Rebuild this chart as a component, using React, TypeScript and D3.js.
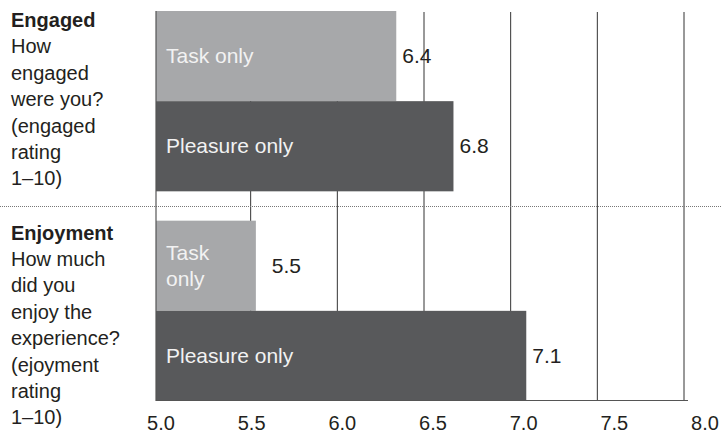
import React from "react";
import * as d3 from "d3";

// ---- data ----
const groupTitles = ["Engaged", "Enjoyment"];
const groupQuestions = [
  ["How", "engaged", "were you?", "(engaged", "rating", "1–10)"],
  ["How much", "did you", "enjoy the", "experience?", "(ejoyment", "rating", "1–10)"],
];
const seriesNames = ["Task only", "Pleasure only"];
// bar lengths as drawn in the picture
const taskValues = [6.34, 5.53];
const pleasureValues = [6.67, 7.09];
// printed value labels
const taskLabels = ["6.4", "5.5"];
const pleasureLabels = ["6.8", "7.1"];
const gridValues = [5.5, 6.0, 6.5, 7.0, 7.5, 8.0];
const tickLabels = ["5.0", "5.5", "6.0", "6.5", "7.0", "7.5", "8.0"];

// ---- layout ----
const W = 721;
const H = 434;
const plotLeft = 156;
const plotTop = 11;
const plotBottom = 401;
const FONT = "'Liberation Sans', Arial, Helvetica, sans-serif";
const seriesColors = ["#a7a8aa", "#58595b"];
const titleOffsets = [16, 19];

export default function App() {
  const x = d3.scaleLinear().domain([5, 8]).range([164, 684]);
  const tickScale = d3.scalePoint<string>().domain(tickLabels).range([161, 705]);
  const groupScale = d3
    .scaleBand<string>()
    .domain(groupTitles)
    .range([plotTop, plotBottom])
    .paddingInner(0.14)
    .paddingOuter(0);
  const seriesScale = d3
    .scaleBand<string>()
    .domain(seriesNames)
    .range([0, groupScale.bandwidth()])
    .padding(0);

  const seriesValues = [taskValues, pleasureValues];
  const seriesLabels = [taskLabels, pleasureLabels];

  const g0 = groupScale(groupTitles[0])!;
  const g1 = groupScale(groupTitles[1])!;
  const sepY = (g0 + groupScale.bandwidth() + g1) / 2;

  const lineH = 26;

  return (
    <svg
      width={W}
      height={H}
      style={{ position: "absolute", left: 0, top: 0, background: "#fff" }}
      fontFamily={FONT}
    >
      {/* gridlines */}
      {gridValues.map((v) => (
        <line
          key={"g" + v}
          x1={x(v)}
          x2={x(v)}
          y1={plotTop + 1}
          y2={plotBottom}
          stroke="#333"
          strokeWidth={1}
        />
      ))}

      {/* separator */}
      <line
        x1={0}
        x2={W}
        y1={Math.round(sepY) + 0.5}
        y2={Math.round(sepY) + 0.5}
        stroke="#777"
        strokeWidth={1}
        strokeDasharray="1 1"
      />

      {/* bars */}
      {groupTitles.map((gt, gi) => {
        const gy = groupScale(gt)!;
        return seriesNames.map((sn, si) => {
          const v = seriesValues[si][gi];
          const y = gy + seriesScale(sn)!;
          const h = seriesScale.bandwidth();
          const xe = x(v);
          const bw = xe - plotLeft;
          const mid = y + h / 2;
          const fs = 21;
          const estW = sn.length * fs * 0.5;
          const wrapped = bw - 20 < estW;
          const words = wrapped ? sn.split(" ") : [sn];
          const n = words.length;
          return (
            <g key={gt + sn}>
              <rect x={plotLeft} y={y} width={bw} height={h} fill={seriesColors[si]} />
              <text fontSize={fs} fill="#f2f2f2">
                {words.map((w, i) => (
                  <tspan key={i} x={plotLeft + 10} y={mid + 7 + (i - (n - 1) / 2) * lineH}>
                    {w}
                  </tspan>
                ))}
              </text>
              <text x={xe + (wrapped ? 16 : 6)} y={mid + 7} fontSize={21} fill="#231f20">
                {seriesLabels[si][gi]}
              </text>
            </g>
          );
        });
      })}

      {/* axes */}
      <line x1={plotLeft} x2={plotLeft} y1={plotTop} y2={plotBottom} stroke="#555" strokeWidth={1.2} />
      <line x1={plotLeft} x2={688} y1={plotBottom - 0.5} y2={plotBottom - 0.5} stroke="#555" strokeWidth={1.2} />

      {/* tick labels */}
      {tickLabels.map((t) => (
        <text key={t} x={tickScale(t)} y={430} fontSize={20} textAnchor="middle" fill="#231f20">
          {t}
        </text>
      ))}

      {/* group labels */}
      {groupTitles.map((gt, gi) => {
        const gy = groupScale(gt)!;
        const lines = groupQuestions[gi];
        const base = gy + titleOffsets[gi];
        return (
          <text key={gt} fontSize={20} fill="#231f20">
            <tspan x={11} y={base} fontWeight="bold">
              {gt}
            </tspan>
            {lines.map((l, i) => (
              <tspan key={i} x={11} y={base + (i + 1) * 26.4}>
                {l}
              </tspan>
            ))}
          </text>
        );
      })}
    </svg>
  );
}
